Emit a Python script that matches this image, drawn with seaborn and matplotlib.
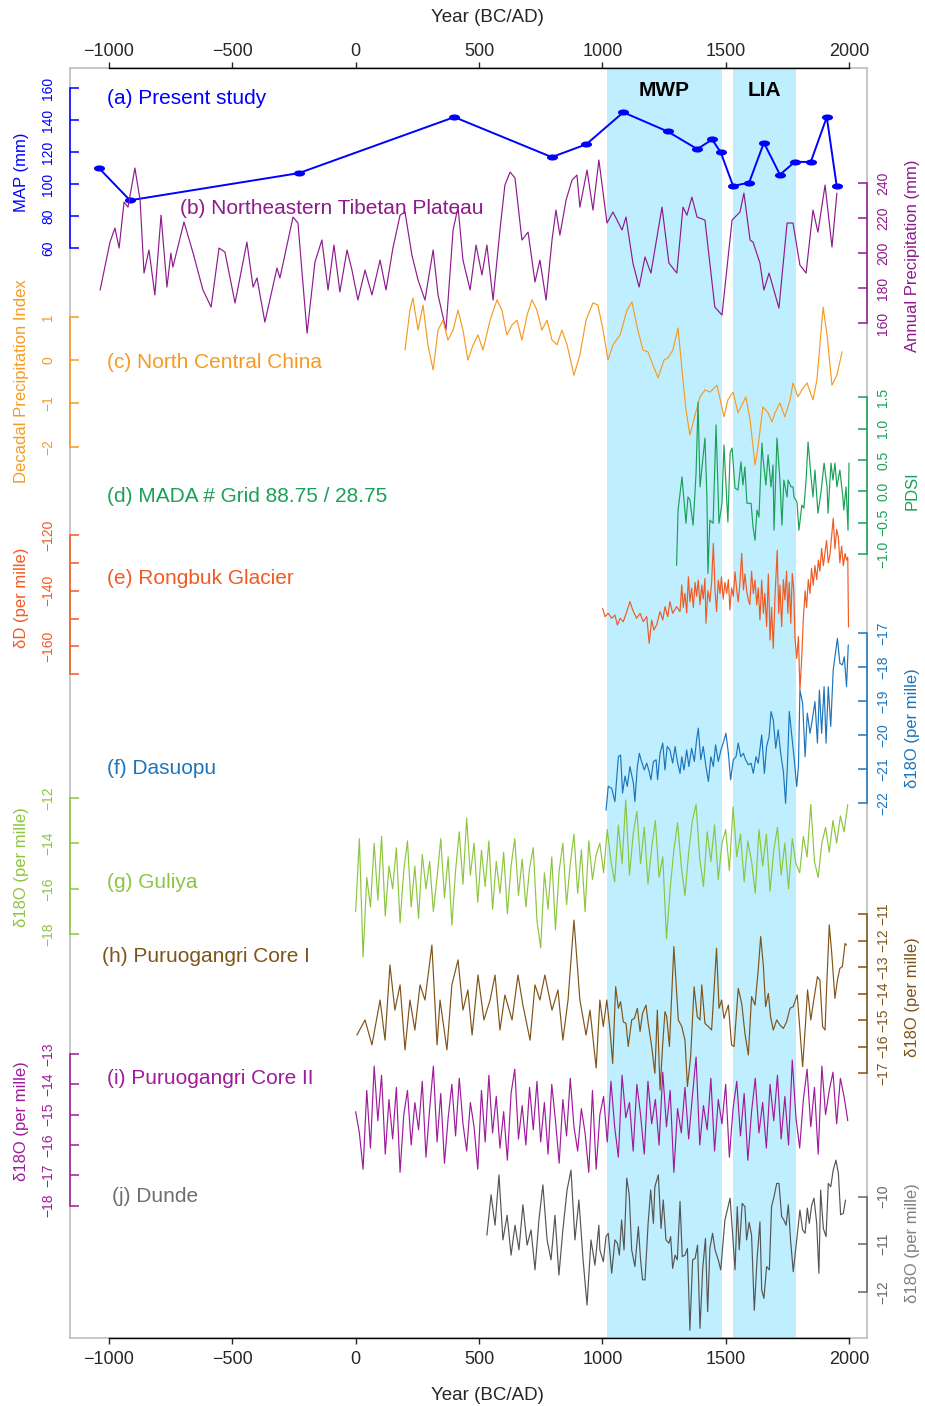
import numpy as np
import matplotlib
matplotlib.use("Agg")
import matplotlib.pyplot as plt
from matplotlib.path import Path
import seaborn as sns

# ---------------- data ----------------
period_names = ["MWP", "LIA"]
period_start = [1020, 1530]
period_end = [1485, 1785]

a_year = [-1040, -915, -230, 400, 795, 935, 1085, 1265, 1385, 1445, 1480, 1530, 1595, 1655, 1720, 1780, 1845, 1910, 1950]
a_map = [110, 90, 107, 142, 117, 125, 145, 133, 122, 128, 120, 99, 101, 126, 106, 114, 114, 142, 99]

b_year = [-1036, -996, -976, -959, -939, -923, -895, -874, -858, -838, -814, -789, -765, -749, -741, -696, -659, -619,
          -586, -554, -530, -489, -441, -416, -400, -368, -319, -307, -254, -234, -197, -165, -137, -112, -88, -64, -35,
          -15, 9, 38, 66, 99, 123, 151, 180, 200, 228, 253, 281, 314, 334, 366, 395, 415, 435, 464, 488, 512, 532, 557,
          585, 605, 626, 646, 674, 699, 727, 747, 772, 796, 812, 828, 853, 877, 897, 909, 938, 962, 986, 1019, 1043,
          1080, 1096, 1124, 1149, 1173, 1197, 1242, 1270, 1302, 1327, 1343, 1363, 1384, 1416, 1456, 1485, 1526, 1558,
          1574, 1599, 1611, 1639, 1655, 1676, 1716, 1749, 1773, 1801, 1826, 1854, 1874, 1903, 1931, 1951]
b_prec = [179.0, 206.4, 214.4, 203.0, 229.3, 226.4, 248.7, 230.4, 188.7, 201.9, 176.2, 221.8, 180.7, 200.1, 192.1,
          217.9, 200.1, 179.0, 169.3, 203.0, 200.7, 171.6, 206.4, 180.7, 185.9, 160.7, 191.6, 185.9, 220.7, 217.3,
          154.4, 195.0, 207.6, 179.0, 204.7, 177.9, 201.9, 190.4, 173.3, 190.4, 176.2, 196.1, 179.0, 203.0, 221.8,
          223.6, 199.0, 184.7, 173.3, 201.9, 176.2, 156.2, 213.3, 226.4, 196.1, 179.0, 204.7, 187.6, 204.7, 173.3,
          213.3, 239.0, 246.4, 243.0, 207.6, 212.1, 183.6, 196.1, 173.3, 207.6, 224.7, 210.4, 230.4, 241.8, 244.7,
          226.4, 247.6, 224.7, 253.3, 217.3, 223.6, 213.3, 220.7, 194.4, 180.7, 197.9, 188.7, 226.4, 194.4, 188.7,
          226.4, 221.8, 232.1, 220.7, 219.0, 169.3, 164.7, 219.0, 223.6, 234.4, 207.6, 206.4, 194.4, 179.0, 188.7,
          168.7, 217.3, 217.3, 193.3, 188.7, 224.7, 212.1, 239.0, 203.6, 234.4]

c_year = [200, 220, 232, 253, 273, 293, 314, 334, 354, 374, 395, 415, 435, 455, 476, 496, 516, 545, 573, 593, 613,
          634, 654, 674, 695, 715, 735, 755, 776, 796, 816, 836, 857, 885, 909, 934, 962, 982, 1003, 1023, 1043, 1072,
          1100, 1120, 1144, 1165, 1185, 1205, 1226, 1250, 1266, 1286, 1307, 1323, 1339, 1355, 1376, 1396, 1416, 1436,
          1465, 1493, 1509, 1530, 1550, 1582, 1599, 1619, 1631, 1651, 1672, 1688, 1700, 1720, 1740, 1761, 1773, 1793,
          1809, 1830, 1854, 1870, 1882, 1895, 1911, 1931, 1951, 1972]
c_index = [0.23, 1.15, 1.43, 0.69, 1.27, 0.35, -0.23, 0.69, 0.92, 0.46, 0.69, 1.15, 0.69, 0.0, 0.35, 0.58, 0.23, 0.92,
           1.39, 1.15, 0.58, 0.81, 0.92, 0.46, 1.04, 1.39, 1.15, 0.69, 0.92, 0.46, 0.35, 0.69, 0.35, -0.35, 0.12, 0.92,
           1.32, 1.27, 0.69, 0.0, 0.35, 0.58, 1.15, 1.34, 0.69, 0.23, 0.19, -0.11, -0.41, 0.0, 0.05, 0.23, 0.74, -0.23,
           -1.15, -1.73, -1.27, -0.85, -0.69, -0.74, -0.58, -1.31, -0.92, -0.74, -1.22, -0.85, -1.38, -2.42, -2.01,
           -1.08, -1.22, -1.43, -1.22, -0.99, -1.31, -0.92, -0.53, -0.85, -0.69, -0.53, -0.92, -0.46, 0.35, 1.22, 0.58,
           -0.58, -0.35, 0.19]

d_year = [1301, 1307, 1323, 1339, 1347, 1355, 1368, 1380, 1388, 1396, 1416, 1424, 1428, 1436, 1449, 1461, 1473, 1485,
          1493, 1509, 1518, 1526, 1538, 1550, 1562, 1570, 1578, 1586, 1603, 1611, 1619, 1627, 1635, 1647, 1651, 1663,
          1672, 1684, 1692, 1696, 1708, 1720, 1728, 1736, 1749, 1753, 1765, 1773, 1777, 1789, 1797, 1809, 1817, 1826,
          1834, 1846, 1854, 1862, 1874, 1886, 1899, 1911, 1915, 1927, 1935, 1943, 1951, 1963, 1975, 1979, 1988, 1996, 2000]
d_pdsi = [-1.18, -0.30, 0.23, -0.51, -0.09, -0.14, -0.54, 0.29, 1.42, 0.07, 0.85, -0.09, -1.31, -0.46, -0.51, 1.06,
          -0.51, -0.19, 0.74, -0.49, 0.61, 0.69, 0.05, 0.02, 0.47, 0.10, 0.39, -0.19, -0.19, -0.57, -0.78, -0.30, -0.41,
          0.77, 0.55, 0.10, 0.58, 0.07, 0.42, -0.62, 0.85, 0.18, -0.54, 0.18, -0.09, 0.18, 0.07, 0.07, -0.09, -0.17,
          -0.62, -0.22, -0.27, 0.18, 0.79, 0.23, -0.09, 0.34, -0.35, -0.03, 0.45, 0.07, -0.35, 0.45, 0.18, 0.45, 0.07,
          0.34, -0.09, -0.30, 0.07, -0.62, 0.45]

e_year = [1001, 1011, 1024, 1038, 1051, 1061, 1072, 1085, 1099, 1112,
          1123, 1139, 1153, 1166, 1180, 1190, 1200, 1209, 1220, 1234,
          1245, 1254, 1265, 1274, 1285, 1301, 1315, 1322, 1328, 1335,
          1342, 1349, 1355, 1362, 1369, 1376, 1382, 1389, 1396, 1403,
          1409, 1416, 1420, 1428, 1436, 1443, 1450, 1457, 1463, 1470,
          1477, 1483, 1490, 1497, 1504, 1511, 1517, 1524, 1531, 1538,
          1545, 1551, 1558, 1565, 1572, 1578, 1585, 1592, 1598, 1605,
          1612, 1619, 1626, 1632, 1639, 1646, 1653, 1659, 1666, 1673,
          1680, 1686, 1693, 1700, 1709, 1715, 1720, 1727, 1734, 1740,
          1747, 1752, 1758, 1764, 1770, 1776, 1781, 1788, 1795, 1801,
          1808, 1815, 1822, 1828, 1835, 1842, 1848, 1855, 1862, 1869,
          1876, 1882, 1889, 1896, 1903, 1909, 1916, 1923, 1930, 1936,
          1943, 1950, 1957, 1963, 1970, 1977, 1984, 1990, 1995, 1998]
e_dD = [-146.3, -149.3, -148.1, -149.9, -148.7, -152.3, -149.9, -151.1, -147.5, -143.9,
        -146.9, -149.9, -148.1, -151.1, -149.3, -158.9, -150.5, -154.1, -152.3, -147.5,
        -150.5, -145.7, -149.3, -143.9, -148.1, -145.7, -147.5, -137.9, -146.0, -140.9,
        -148.0, -135.0, -144.0, -139.0, -146.0, -137.0, -142.0, -136.2, -145.0, -138.0,
        -143.0, -135.6, -151.7, -140.0, -144.0, -137.0, -123.0, -140.0, -147.5, -136.2,
        -141.0, -135.0, -143.0, -137.0, -141.0, -136.0, -146.9, -139.0, -142.0, -133.2,
        -140.0, -144.0, -137.0, -126.6, -139.7, -134.0, -140.0, -143.3, -145.0, -133.0,
        -141.0, -136.2, -145.1, -139.0, -150.5, -136.2, -148.1, -140.9, -152.9, -134.0,
        -157.7, -146.0, -160.7, -142.0, -125.5, -148.1, -138.0, -152.9, -136.0, -143.3,
        -133.0, -148.1, -137.0, -151.7, -133.8, -139.7, -157.1, -164.3, -156.5, -175.6,
        -164.9, -150.0, -140.0, -146.0, -136.0, -141.0, -132.0, -138.0, -131.0, -136.0,
        -129.0, -133.0, -124.8, -131.0, -126.0, -122.0, -130.0, -127.0, -120.0, -114.0,
        -125.0, -118.0, -121.0, -130.0, -124.0, -131.0, -126.6, -129.0, -128.0, -153.0]

f_year = [1015, 1024, 1038, 1051, 1065, 1074, 1082, 1092, 1101, 1112, 1126, 1132, 1142, 1150, 1159, 1170, 1180, 1190,
          1197, 1207, 1218, 1224, 1234, 1245, 1254, 1263, 1274, 1285, 1295, 1304, 1315, 1322, 1331, 1342, 1351, 1362,
          1373, 1382, 1389, 1399, 1409, 1420, 1430, 1440, 1450, 1459, 1470, 1481, 1490, 1501, 1511, 1520, 1531, 1542,
          1551, 1561, 1572, 1581, 1592, 1603, 1612, 1623, 1632, 1646, 1657, 1666, 1676, 1684, 1693, 1703, 1713, 1723,
          1734, 1743, 1751, 1758, 1767, 1777, 1788, 1795, 1801, 1812, 1822, 1831, 1842, 1851, 1862, 1872, 1880, 1889,
          1899, 1907, 1916, 1926, 1936, 1943, 1953, 1963, 1973, 1981, 1990, 1997]
f_d18O = [-22.2, -21.5, -21.56, -21.95, -20.63, -20.58, -21.7, -21.2, -21.5, -20.92, -21.41, -21.95, -20.92, -20.53,
          -20.77, -21.02, -20.82, -21.07, -21.31, -20.77, -20.72, -21.31, -20.53, -20.23, -21.02, -20.33, -20.43,
          -20.82, -20.33, -20.77, -21.12, -20.63, -21.02, -20.43, -20.92, -20.38, -20.77, -20.14, -19.79, -20.72,
          -20.33, -20.92, -21.36, -20.63, -20.92, -20.28, -20.77, -20.43, -20.23, -19.94, -20.53, -21.31, -20.72,
          -20.63, -20.23, -20.63, -20.53, -20.72, -20.87, -20.82, -21.12, -20.63, -20.82, -19.99, -21.12, -20.33,
          -20.04, -19.3, -19.55, -20.38, -19.84, -20.53, -21.07, -22.0, -20.77, -19.3, -19.94, -20.63, -21.51, -20.92,
          -18.67, -19.06, -20.63, -19.35, -19.94, -19.55, -19.01, -20.23, -18.67, -19.94, -18.57, -20.23, -18.57,
          -19.74, -18.08, -17.69, -17.15, -17.88, -17.93, -17.69, -18.57, -17.34]

g_year = list(range(0, 2000, 15))
g_d18O = [-17.0, -13.8, -19.0, -15.5, -16.8, -14.0, -16.5, -13.7, -17.2, -15.0,
          -16.0, -14.2, -17.5, -15.2, -13.9, -16.8, -15.0, -17.3, -14.5, -16.0,
          -14.8, -17.0, -15.5, -13.8, -16.4, -14.6, -17.6, -15.2, -13.5, -15.8,
          -12.9, -15.4, -14.0, -16.6, -14.3, -15.9, -13.9, -16.9, -14.8, -16.2,
          -14.4, -17.1, -15.0, -13.8, -16.3, -14.7, -16.8, -15.1, -14.2, -17.4,
          -18.6, -15.3, -16.9, -14.6, -17.8, -15.2, -14.0, -16.7, -14.9, -13.6,
          -16.2, -14.3, -17.0, -13.9, -15.6, -14.5, -14.0, -15.3, -13.4, -14.8,
          -15.7, -13.2, -14.9, -12.1, -15.4, -13.6, -12.6, -14.9, -13.3, -15.8,
          -14.2, -13.0, -15.5, -14.6, -18.2, -16.0, -14.3, -13.1, -15.0, -16.3,
          -14.4, -13.0, -12.3, -14.7, -15.9, -13.5, -14.8, -13.2, -15.6, -14.0,
          -13.4, -15.2, -12.4, -14.6, -13.6, -15.7, -13.9, -14.8, -16.2, -13.4,
          -15.0, -13.6, -16.1, -14.3, -13.3, -15.4, -14.0, -16.0, -13.8, -14.9,
          -15.3, -13.7, -14.6, -12.3, -14.8, -15.5, -14.0, -13.3, -14.4, -13.0,
          -14.0, -12.8, -13.5, -12.3]

h_year = [5, 38, 66, 99, 119, 139, 159, 180, 200, 220, 240, 261, 281, 309, 330, 342, 370, 390, 415, 435, 455, 472, 496,
          520, 545, 565, 585, 605, 634, 658, 678, 707, 727, 747, 767, 796, 820, 840, 861, 885, 909, 934, 950, 975, 990,
          1004, 1018, 1031, 1042, 1054, 1065, 1074, 1085, 1096, 1105, 1119, 1130, 1142, 1153, 1163, 1177, 1186, 1200,
          1213, 1223, 1234, 1245, 1254, 1261, 1272, 1290, 1308, 1322, 1335, 1345, 1358, 1372, 1385, 1396, 1403, 1416,
          1430, 1443, 1463, 1473, 1484, 1493, 1511, 1524, 1534, 1551, 1565, 1578, 1592, 1605, 1619, 1632, 1642, 1653,
          1662, 1673, 1682, 1693, 1707, 1720, 1734, 1747, 1761, 1774, 1790, 1799, 1812, 1822, 1832, 1845, 1855, 1872,
          1882, 1893, 1903, 1909, 1920, 1930, 1943, 1953, 1963, 1973, 1984, 1990]
h_d18O = [-15.56, -14.99, -15.93, -14.24, -15.75, -12.92, -14.62, -13.67, -16.12, -14.24, -15.37, -13.67, -14.24,
          -12.17, -15.93, -14.24, -16.12, -13.67, -12.73, -14.62, -13.86, -15.56, -13.3, -14.99, -14.24, -13.3, -15.37,
          -14.05, -14.99, -13.3, -14.43, -15.75, -13.67, -14.24, -13.3, -14.62, -13.86, -15.75, -14.24, -11.23, -14.24,
          -15.56, -14.62, -16.8, -14.24, -15.24, -14.24, -15.37, -16.63, -13.74, -14.55, -14.30, -15.06, -15.12, -15.99,
          -14.99, -14.93, -14.55, -15.43, -14.74, -14.43, -15.12, -15.99, -17.0, -14.62, -17.63, -15.87, -14.68,
          -14.87, -15.99, -12.23, -14.99, -15.24, -15.75, -17.5, -16.37, -13.74, -14.87, -14.99, -13.67, -15.12,
          -15.24, -15.37, -12.29, -14.55, -14.24, -14.93, -14.43, -15.93, -15.99, -13.8, -14.37, -15.49, -16.31,
          -14.11, -14.43, -13.11, -11.85, -12.98, -14.49, -13.99, -14.87, -15.37, -14.99, -15.18, -15.31, -15.06,
          -14.55, -14.49, -14.05, -15.12, -16.75, -15.37, -13.86, -14.99, -14.37, -13.36, -13.49, -15.24, -15.37,
          -13.86, -11.41, -12.48, -14.18, -13.49, -13.05, -12.98, -12.11, -12.17]

i_year = list(range(0, 2000, 15))
i_d18O = [-14.9, -15.6, -16.8, -14.2, -16.1, -13.4, -15.2, -13.7, -16.3, -14.5,
          -15.8, -14.1, -16.9, -15.0, -14.2, -16.0, -14.6, -15.5, -13.9, -16.4,
          -14.8, -13.4, -15.9, -14.3, -16.6, -15.1, -14.0, -15.7, -13.8, -15.3,
          -16.2, -14.6, -15.4, -16.8, -14.2, -15.9, -13.7, -15.6, -14.4, -16.1,
          -14.9, -16.5, -14.3, -13.5, -15.8, -14.7, -16.0, -14.1, -15.5, -13.9,
          -15.9, -14.6, -16.3, -14.0, -15.2, -16.6, -14.5, -15.7, -13.8, -15.4,
          -16.2, -14.8, -15.6, -16.9, -14.2, -16.8, -15.0, -14.4, -15.9, -13.9,
          -15.4, -16.4, -13.7, -15.1, -14.6, -16.2, -14.0, -15.0, -16.3, -13.9,
          -15.3, -14.5, -16.0, -13.6, -15.4, -14.2, -16.9, -14.8, -15.6, -14.1,
          -15.8, -14.4, -13.1, -16.0, -14.7, -15.5, -13.8, -16.2, -14.5, -15.3,
          -14.0, -16.4, -14.8, -13.9, -15.7, -14.3, -16.5, -14.9, -13.8, -15.6,
          -14.6, -16.1, -14.0, -15.2, -13.7, -15.8, -14.4, -16.0, -13.2, -15.1,
          -16.1, -14.5, -13.5, -15.4, -14.1, -16.3, -13.4, -15.0, -14.2, -13.6,
          -15.3, -13.8, -14.4, -15.2]

j_year = [532, 549, 565, 581, 597, 614, 630, 646, 662, 678, 695, 711, 727, 743, 759, 776, 792, 808, 824, 840, 857, 873,
          889, 905, 922, 938, 954, 970, 986, 990, 1004, 1015, 1024, 1038, 1051, 1061, 1069, 1078, 1088, 1099, 1109, 1119,
          1132, 1146, 1155, 1163, 1173, 1186, 1196, 1207, 1213, 1227, 1238, 1247, 1258, 1270, 1277, 1285, 1295, 1304,
          1315, 1324, 1335, 1345, 1355, 1366, 1376, 1386, 1396, 1407, 1418, 1427, 1436, 1447, 1457, 1470, 1480, 1497,
          1518, 1527, 1538, 1547, 1555, 1567, 1578, 1585, 1595, 1605, 1616, 1628, 1639, 1646, 1655, 1666, 1677, 1686,
          1696, 1707, 1716, 1727, 1736, 1745, 1754, 1763, 1774, 1788, 1801, 1812, 1822, 1831, 1839, 1849, 1858, 1869,
          1878, 1885, 1896, 1907, 1916, 1926, 1936, 1947, 1957, 1966, 1977, 1986]
j_d18O = [-10.81, -9.96, -10.6, -9.54, -10.91, -10.39, -11.23, -10.6, -11.12, -10.17, -11.02, -10.7, -11.54, -10.49,
          -9.75, -10.91, -11.33, -10.39, -11.65, -10.7, -9.86, -9.44, -10.91, -10.07, -11.33, -12.28, -10.91, -11.44,
          -10.6, -11.12, -11.37, -10.84, -10.77, -11.61, -10.91, -10.98, -11.23, -10.49, -11.12, -9.61, -9.96, -11.12,
          -11.47, -10.63, -11.33, -11.75, -11.75, -10.53, -9.86, -10.56, -9.79, -9.54, -10.67, -10.07, -10.91, -10.98,
          -10.84, -11.51, -11.23, -11.33, -10.1, -11.26, -11.23, -11.09, -12.81, -11.33, -11.3, -11.02, -12.77, -11.51,
          -10.88, -12.42, -11.09, -10.77, -11.12, -11.33, -11.54, -10.49, -10.03, -10.7, -11.54, -10.21, -11.12,
          -10.14, -10.21, -10.91, -10.54, -10.81, -12.39, -11.26, -10.53, -11.96, -12.14, -11.47, -11.54, -10.21,
          -10.0, -9.72, -9.72, -10.42, -10.49, -10.6, -10.17, -10.91, -11.58, -10.91, -10.28, -10.7, -10.77, -10.24,
          -10.56, -10.17, -10.03, -10.56, -11.61, -9.86, -10.67, -10.84, -9.72, -9.79, -9.44, -9.23, -9.51, -10.38,
          -10.35, -10.07]

x_ticks = [-1000, -500, 0, 500, 1000, 1500, 2000]

# ---------------- layout ----------------
sns.set_style("white")
plt.rcParams['font.family'] = ['Liberation Sans', 'DejaVu Sans']
plt.rcParams['axes.unicode_minus'] = True

W, H, DPI = 925, 1406, 100
L, R, T, B = 70, 867, 68, 1338
X0PX, X1PX = 109, 849           # pixel positions of the first and last x tick
fig = plt.figure(figsize=(W / DPI, H / DPI), dpi=DPI)
rect = [L / W, 1 - B / H, (R - L) / W, (B - T) / H]
xspan = (x_ticks[-1] - x_ticks[0]) / (X1PX - X0PX)
XLIM = (x_ticks[0] + (L - X0PX) * xspan, x_ticks[0] + (R - X0PX) * xspan)
PT = 72 / DPI


def ylim_for(v0, p0, v1, p1):
    s = (v1 - v0) / (p1 - p0)
    return v0 + (B - p0) * s, v0 + (T - p0) * s


def fx(px):
    return px / W


def fy(py):
    return 1 - py / H


# background panel with shading
ax0 = fig.add_axes(rect)
ax0.set_xlim(XLIM)
ax0.set_ylim(0, 1)
for s, e, n in zip(period_start, period_end, period_names):
    ax0.axvspan(s, e, color='#BFEFFF', lw=0, zorder=0)
    ax0.text((s + e) / 2, (B - 90) / (B - T), n, ha='center', va='center',
             fontsize=15, fontweight='bold', color='black')
for sp in ax0.spines.values():
    sp.set_color('#BEBEBE')
    sp.set_linewidth(1.2)
ax0.set_xticks([])
ax0.set_yticks([])

xlabels = [str(t).replace('-', '\u2212') for t in x_ticks]
for where in ['bottom', 'top']:
    axx = fig.add_axes(rect, facecolor='none')
    axx.set_xlim(XLIM)
    axx.set_ylim(0, 1)
    axx.patch.set_visible(False)
    for side in ['left', 'right', 'top', 'bottom']:
        axx.spines[side].set_visible(side == where)
    axx.spines[where].set_bounds(x_ticks[0], x_ticks[-1])
    axx.spines[where].set_color('black')
    axx.spines[where].set_linewidth(1.0)
    axx.set_xticks(x_ticks)
    axx.set_xticklabels(xlabels)
    axx.tick_params(axis='x', which='both', direction='out', length=6 * PT, width=1,
                    top=(where == 'top'), bottom=(where == 'bottom'),
                    labeltop=(where == 'top'), labelbottom=(where == 'bottom'),
                    labelsize=13, pad=(5 if where == 'bottom' else 1.5))
    axx.set_yticks([])
fig.text(fx(487), fy(18), 'Year (BC/AD)', ha='center', va='center', fontsize=13.5)
fig.text(fx(487), fy(1395), 'Year (BC/AD)', ha='center', va='center', fontsize=13.5)

ellipse = Path(np.column_stack([np.cos(np.linspace(0, 2 * np.pi, 41)),
                                0.55 * np.sin(np.linspace(0, 2 * np.pi, 41))]), closed=True)


def fmt(v, dec):
    s = f"{v:.{dec}f}"
    return s.replace('-', '\u2212')


series = [
    dict(x=a_year, y=a_map, color='#0000FF', side='left', ticks=[60, 80, 100, 120, 140, 160], dec=0,
         anchor=(160, 88.3, 60, 248.3), ylabel='MAP (mm)', ylab_y=172, lab_color='#0000FF',
         text='(a) Present study', tx=107, ty=99, marker=True),
    dict(x=b_year, y=b_prec, color='#8E1A8E', side='right', ticks=[160, 180, 200, 220, 240], dec=0,
         anchor=(240, 183.3, 160, 323.3), ylabel='Annual Precipitation (mm)', ylab_y=256, lab_color='#8E1A8E',
         text='(b) Northeastern Tibetan Plateau', tx=180, ty=208),
    dict(x=c_year, y=c_index, color='#F59B23', side='left', ticks=[-2, -1, 0, 1], dec=0,
         anchor=(1, 316.7, -2, 446.7), ylabel='Decadal Precipitation Index', ylab_y=381, lab_color='#F59B23',
         text='(c) North Central China', tx=107, ty=363),
    dict(x=d_year, y=d_pdsi, color='#1AA156', side='right', ticks=[-1.0, -0.5, 0.0, 0.5, 1.0, 1.5], dec=1,
         anchor=(1.5, 397.3, -1.0, 554), ylabel='PDSI', ylab_y=491, lab_color='#1AA156',
         text='(d) MADA # Grid 88.75 / 28.75', tx=107, ty=497),
    dict(x=e_year, y=e_dD, color='#F15A22', side='left', ticks=[-170, -160, -150, -140, -130, -120], dec=0,
         labelevery=20, anchor=(-120, 535, -170, 674.3), ylabel='\u03b4D (per mille)', ylab_y=598,
         lab_color='#F15A22', text='(e) Rongbuk Glacier', tx=107, ty=578),
    dict(x=f_year, y=f_d18O, color='#1C75BC', side='right', ticks=[-22, -21, -20, -19, -18, -17], dec=0,
         anchor=(-17, 633.3, -22, 803.3), ylabel='\u03b418O (per mille)', ylab_y=728, lab_color='#1C75BC',
         text='(f) Dasuopu', tx=107, ty=768),
    dict(x=g_year, y=g_d18O, color='#8CC63F', side='left', ticks=[-18, -16, -14, -12], dec=0,
         anchor=(-12, 797.7, -18, 934.3), ylabel='\u03b418O (per mille)', ylab_y=867, lab_color='#8CC63F',
         text='(g) Guliya', tx=107, ty=882),
    dict(x=h_year, y=h_d18O, color='#7F5418', side='right', ticks=[-17, -16, -15, -14, -13, -12, -11], dec=0,
         anchor=(-11, 914, -17, 1073.3), ylabel='\u03b418O (per mille)', ylab_y=997, lab_color='#7F5418',
         text='(h) Puruogangri Core I', tx=102, ty=957),
    dict(x=i_year, y=i_d18O, color='#A01A9C', side='left', ticks=[-18, -17, -16, -15, -14, -13], dec=0,
         anchor=(-13, 1054, -18, 1205.7), ylabel='\u03b418O (per mille)', ylab_y=1121, lab_color='#A01A9C',
         text='(i) Puruogangri Core II', tx=107, ty=1078),
    dict(x=j_year, y=j_d18O, color='#555555', side='right', ticks=[-12, -11, -10], dec=0,
         anchor=(-10, 1196.7, -12, 1291.7), ylabel='\u03b418O (per mille)', ylab_y=1243, lab_color='#808080',
         text='(j) Dunde', tx=112, ty=1197, text_color='#6E6E6E', tick_color='#666666'),
]

for sp_ in series:
    ax = fig.add_axes(rect, facecolor='none')
    ax.patch.set_visible(False)
    if sp_.get('marker'):
        sns.lineplot(x=sp_['x'], y=sp_['y'], ax=ax, color=sp_['color'], linewidth=1.4,
                     marker=ellipse, markersize=8, markeredgewidth=0, estimator=None, sort=False)
    else:
        sns.lineplot(x=sp_['x'], y=sp_['y'], ax=ax, color=sp_['color'], linewidth=0.85,
                     estimator=None, sort=False)
    ax.set_xlim(XLIM)
    ax.set_ylim(*ylim_for(*sp_['anchor']))
    ax.set_xlabel('')
    ax.set_ylabel('')
    ax.xaxis.set_visible(False)
    side = sp_['side']
    other = 'right' if side == 'left' else 'left'
    for s in ['top', 'bottom', other]:
        ax.spines[s].set_visible(False)
    tc = sp_.get('tick_color', sp_['color'])
    ax.spines[side].set_color(tc)
    ax.spines[side].set_linewidth(1.1)
    ax.spines[side].set_bounds(sp_['ticks'][0], sp_['ticks'][-1])
    if side == 'right':
        ax.yaxis.tick_right()
    ax.set_yticks(sp_['ticks'])
    every = sp_.get('labelevery')
    labs = [fmt(t, sp_['dec']) if (every is None or t % every == 0) else '' for t in sp_['ticks']]
    ax.set_yticklabels(labs)
    ax.tick_params(axis='y', direction='in', length=9 * PT, width=1.1, color=tc,
                   labelcolor=tc, labelsize=10, pad=(10.5 if side == 'left' else 6.5),
                   left=(side == 'left'), right=(side == 'right'),
                   labelleft=(side == 'left'), labelright=(side == 'right'))
    for lab in ax.get_yticklabels():
        lab.set_rotation(90)
        lab.set_va('center')
        lab.set_ha('right' if side == 'left' else 'left')
    lx = 22 if side == 'left' else 912
    fig.text(fx(lx), fy(sp_['ylab_y']), sp_['ylabel'], rotation=90, ha='center', va='center',
             fontsize=12, color=sp_['lab_color'])
    fig.text(fx(sp_['tx']), fy(sp_['ty']), sp_['text'], ha='left', va='center', fontsize=15,
             color=sp_.get('text_color', sp_['color']))

fig.savefig('out.png', dpi=DPI)
